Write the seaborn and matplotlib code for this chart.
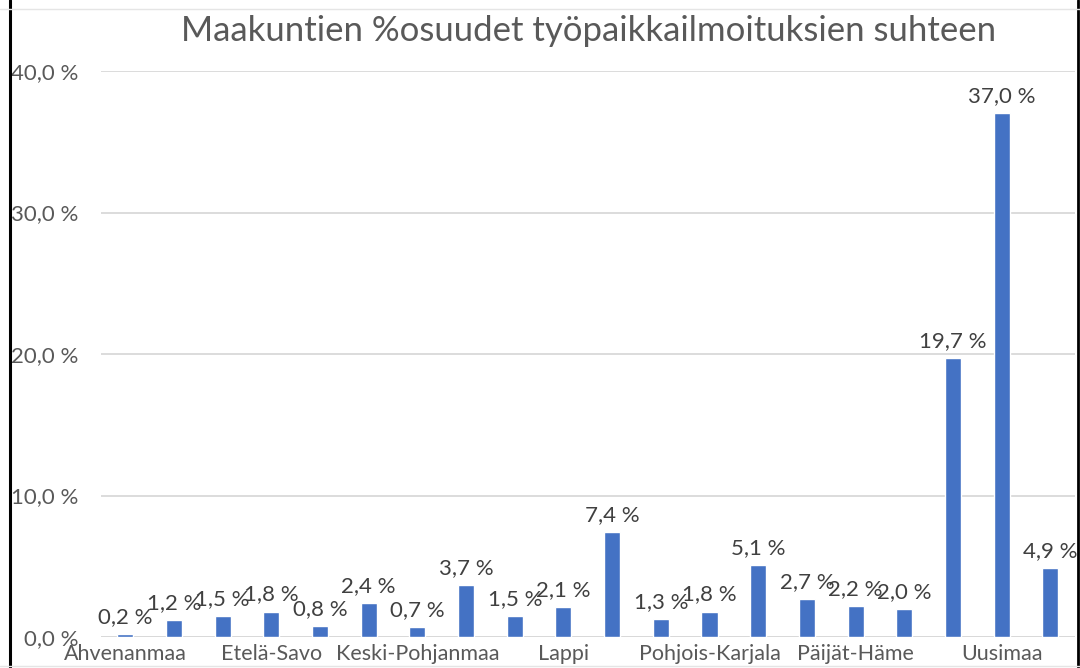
import numpy as np
import pandas as pd
import matplotlib
matplotlib.use('Agg')
import matplotlib.pyplot as plt
import seaborn as sns
from matplotlib.lines import Line2D

maakunnat = ['Ahvenanmaa', 'Etelä-Karjala', 'Etelä-Pohjanmaa', 'Etelä-Savo', 'Kainuu',
             'Kanta-Häme', 'Keski-Pohjanmaa', 'Keski-Suomi', 'Kymenlaakso', 'Lappi',
             'Pirkanmaa', 'Pohjanmaa', 'Pohjois-Karjala', 'Pohjois-Pohjanmaa', 'Pohjois-Savo',
             'Päijät-Häme', 'Satakunta', 'Tuntematon', 'Uusimaa', 'Varsinais-Suomi']
osuudet = [0.2, 1.2, 1.5, 1.8, 0.8, 2.4, 0.7, 3.7, 1.5, 2.1,
           7.4, 1.3, 1.8, 5.1, 2.7, 2.2, 2.0, 19.7, 37.0, 4.9]
y_ticks = [0, 10, 20, 30, 40]

sns.set_theme(style='white')
plt.rcParams['font.family'] = ['Lato', 'DejaVu Sans']

df = pd.DataFrame({'maakunta': maakunnat, 'osuus': osuudet})

fig = plt.figure(figsize=(10.8, 6.68), dpi=100)
ax = fig.add_axes([0.0935, 0.0464, 0.9015, 0.8473])
sns.barplot(data=df, x='maakunta', y='osuus', color='#4472C4', width=0.33,
            saturation=1, ax=ax, zorder=3)

ax.set_ylim(0, 40)
ax.set_xlim(-0.5, len(maakunnat) - 0.5)
ax.set_yticks(y_ticks)
ax.set_yticklabels([f'{v:.1f} %'.replace('.', ',') for v in y_ticks],
                   fontsize=16, color='#595959')
ax.set_xticks(range(0, len(maakunnat), 3))
ax.set_xticklabels(maakunnat[::3], fontsize=15.5, color='#595959')
ax.tick_params(axis='y', length=0, pad=16)
ax.tick_params(axis='x', length=0, pad=5)
ax.set_xlabel('')
ax.set_ylabel('')
for s in ax.spines.values():
    s.set_visible(False)
ax.grid(axis='y', color='#D9D9D9', linewidth=1.3, zorder=0)
ax.set_axisbelow(True)
ax.axhline(0, color='#D9D9D9', linewidth=1.3, zorder=1)
ax.patch.set_alpha(0)

for i, v in enumerate(osuudet):
    ax.annotate(f'{v:.1f} %'.replace('.', ','), (i, v), xytext=(0, 5),
                textcoords='offset points', ha='center', va='bottom',
                fontsize=16, color='#404040', zorder=4)

fig.suptitle('Maakuntien %osuudet työpaikkailmoituksien suhteen', x=0.545, y=0.978,
             fontsize=25, color='#595959')

# reunaviivat
fig.add_artist(Line2D([10 / 1080, 10 / 1080], [0, 1], color='black', linewidth=2.2))
fig.add_artist(Line2D([1078 / 1080, 1078 / 1080], [0, 1], color='black', linewidth=2))
fig.add_artist(Line2D([0, 1], [1 - 9 / 668, 1 - 9 / 668], color='#E5E5E5', linewidth=1))
fig.add_artist(Line2D([0, 1], [2 / 668, 2 / 668], color='#E5E5E5', linewidth=1))

fig.savefig('out.png', dpi=100)
